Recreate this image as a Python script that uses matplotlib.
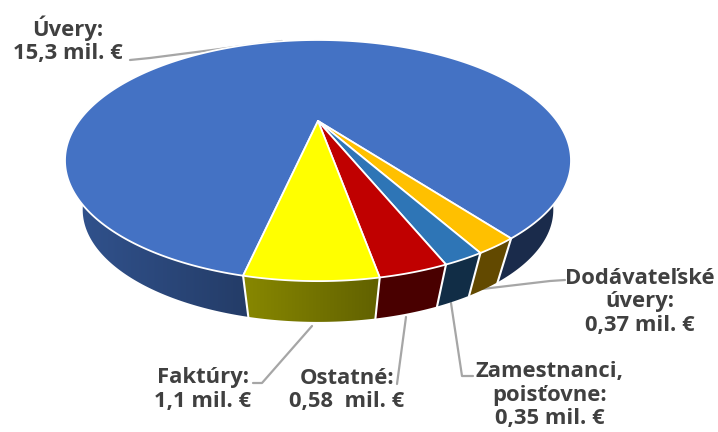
import numpy as np
import matplotlib
matplotlib.use("Agg")
import matplotlib.pyplot as plt
from matplotlib.patches import Polygon

categories = ["Úvery", "Dodávateľské úvery", "Zamestnanci, poisťovne", "Ostatné", "Faktúry"]
values = [15.3, 0.37, 0.35, 0.58, 1.1]
colors = ["#4472C4", "#FFC000", "#2E75B6", "#C00000", "#FFFF00"]
labels = ["Úvery:\n15,3 mil. €", "Dodávateľské\núvery:\n0,37 mil. €",
          "Zamestnanci,\npoisťovne:\n0,35 mil. €", "Ostatné:\n0,58  mil. €", "Faktúry:\n1,1 mil. €"]
label_xy = [(68, 40), (640, 302), (550, 395), (347, 390), (203, 389.5)]
leaders = [[(130, 60), (150, 58), (282, 41)],
           [(482, 289), (550, 281), (565, 280)],
           [(451, 303), (462, 376), (473, 376)],
           [(406, 317), (397, 384)],
           [(312, 326), (262, 383), (253, 383)]]

START = np.radians(-12.3)
CX, CY, RX, RY, K = 318.0, 121.0, 239.0, 107.6, 0.328
SHRINK, DROP = 0.93, 52.0
INK, LEADER = "#404040", "#A6A6A6"


def top_point(a):
    w = 1 - K * np.cos(a)
    return CX + RX * np.sin(a) / w, CY + RY * np.cos(a) / w


def bottom_point(a):
    x, y = top_point(a)
    return CX + (x - CX) * SHRINK, CY + (y - CY) * SHRINK + DROP


fig = plt.figure(figsize=(7.18, 4.32), dpi=100)
ax = fig.add_axes([0, 0, 1, 1])

sweeps = 2 * np.pi * np.array(values) / sum(values)
edges = START - np.concatenate([[0], np.cumsum(sweeps)])

# walls of the drum: horizontal gradient clipped to each visible wall panel
ramp_x = np.arange(60, 580)
ramp_f = np.interp(ramp_x, [75, 375], [0.72, 0.385])
for i, col in enumerate(colors):
    grid = np.linspace(edges[i + 1], edges[i], 720 if i == 0 else 40)
    visible = np.cos(grid) >= -0.7
    runs = np.split(grid[visible], np.where(np.diff(np.where(visible)[0]) > 1)[0] + 1)
    rgb = np.array(matplotlib.colors.to_rgb(col))
    image = (ramp_f[:, None] * rgb)[None, :, :]
    for run in runs:
        if len(run) < 2:
            continue
        tx, ty = top_point(run)
        bx, by = bottom_point(run)
        outline = np.column_stack([np.r_[tx, bx[::-1]], np.r_[ty, by[::-1]]])
        panel = Polygon(outline, closed=True, fc="none", ec="none", transform=ax.transData)
        ax.add_patch(panel)
        im = ax.imshow(image, extent=(60, 580, 432, 0), aspect="auto",
                       interpolation="bilinear", zorder=2)
        im.set_clip_path(panel)

ax.set_xlim(0, 718)
ax.set_ylim(432, 0)
ax.axis("off")

# white seams between wall panels
for e in edges[1:]:
    p, q = top_point(e), bottom_point(e)
    ax.plot([p[0], q[0]], [p[1], q[1]], color="white", lw=1.5, zorder=3)

# top face
for i, col in enumerate(colors):
    grid = np.linspace(edges[i + 1], edges[i], 400 if i == 0 else 40)
    xs, ys = top_point(grid)
    pts = np.column_stack([np.r_[CX, xs], np.r_[CY, ys]])
    ax.add_patch(Polygon(pts, closed=True, fc=col, ec="white", lw=1.3,
                         joinstyle="round", zorder=4))

# leader lines
for seg, z in zip(leaders, [3, 1, 1, 1, 1]):
    xs, ys = zip(*seg)
    ax.plot(xs, ys, color=LEADER, lw=1.6, zorder=z, solid_capstyle="round")

for txt, (x, y) in zip(labels, label_xy):
    ax.text(x, y, txt, ha="center", va="center", multialignment="center",
            family="Open Sans", weight="bold", fontsize=15.8, color=INK,
            linespacing=1.13, zorder=6)

fig.savefig("out.png", dpi=100)
